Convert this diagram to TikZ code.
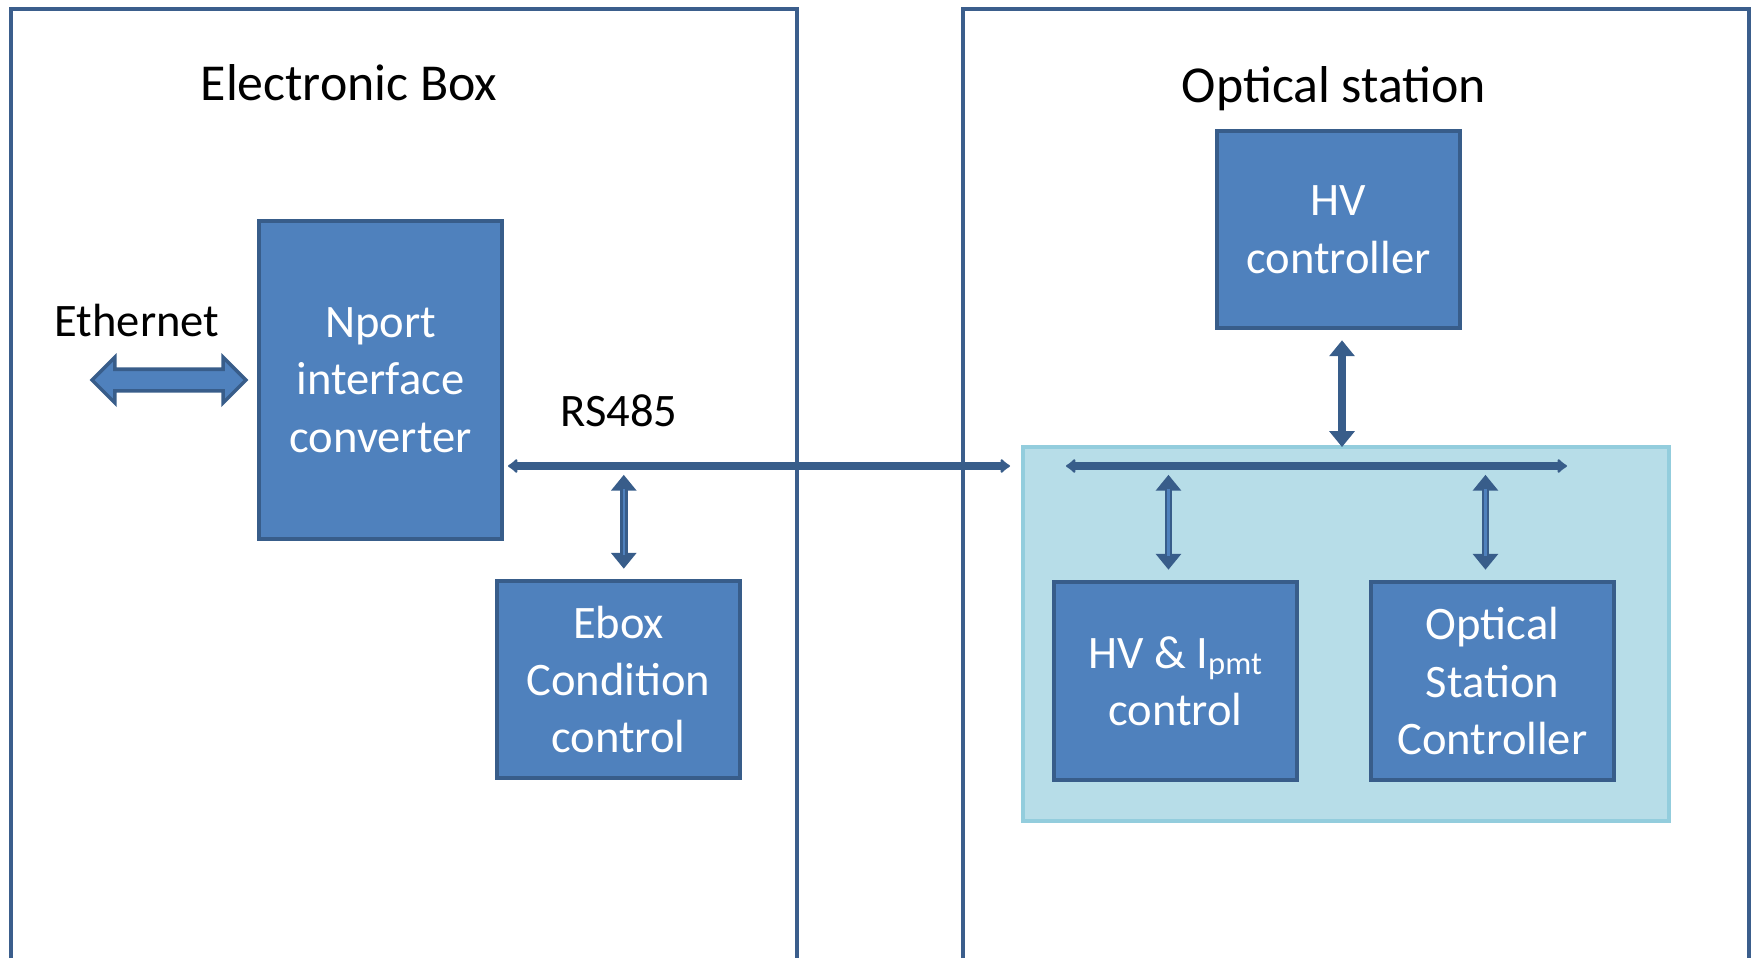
\documentclass[tikz,border=0pt]{standalone}
\usepackage{fontspec}
\setmainfont{Carlito}
\usetikzlibrary{arrows.meta,shapes.arrows}

\definecolor{boxfill}{HTML}{4F81BD}
\definecolor{boxline}{HTML}{385D8A}
\definecolor{zonefill}{HTML}{B7DDE8}
\definecolor{zoneline}{HTML}{93CDDD}
\definecolor{framecol}{HTML}{3B5E8C}

\tikzset{
    frame/.style={draw=framecol, line width=2pt},
    blockbox/.style={draw=boxline, fill=boxfill, line width=2pt, text=white, align=center,
        inner sep=0pt, minimum width=4.86cm, font=\fontsize{26.5}{32.7}\selectfont},
    zone/.style={draw=zoneline, fill=zonefill, line width=2pt, inner sep=0pt},
    title/.style={anchor=base, font=\fontsize{29.5}{35}\selectfont},
    label/.style={anchor=base, font=\fontsize{26.5}{32}\selectfont},
    bus/.style={draw=boxline, line width=4.5pt, {Latex[width=10pt,length=6pt,round]}-{Latex[width=10pt,length=6pt,round]}},
    link/.style={draw=boxline, line width=4.5pt, {Triangle[width=14pt,length=9pt]}-{Triangle[width=14pt,length=9pt]}},
    stripe/.style={draw=boxfill, line width=1.2pt}
}

\begin{document}
\begin{tikzpicture}[x=0.02cm, y=-0.02cm]
    \useasboundingbox (0,0) rectangle (1756,958);

    % the two enclosures, open at the bottom
    \draw[frame] (11,958) -- (11,9) -- (797,9) -- (797,958);
    \draw[frame] (963,958) -- (963,9) -- (1749,9) -- (1749,958);
    \node[title] (eboxtitle) at (349,100) {Electronic Box};
    \node[title] (ostitle) at (1334,102) {Optical station};

    % electronic box side
    \node[blockbox, minimum height=6.36cm] (nport) at (380.5,380) {Nport\\interface\\converter};
    \node[blockbox, minimum height=3.94cm] (ebox) at (618.5,679.5) {Ebox\\Condition\\control};
    \node[double arrow, draw=boxline, fill=boxfill, line width=2pt, minimum height=3.08cm,
        inner xsep=0pt, inner ysep=0.18cm, double arrow head extend=0.24cm] (eth) at (169,380) {};
    \node[label] (ethlabel) at (137,336) {Ethernet};
    \node[label] (rslabel) at (619,426) {RS485};

    % optical station side
    \node[zone, minimum width=12.92cm, minimum height=7.48cm] (zone) at (1346,634) {};
    \node[blockbox, minimum height=3.94cm] (hvc) at (1338.5,229.5) {HV\\controller};
    \node[blockbox, minimum height=3.96cm] (hvi) at (1175.5,681) {HV \& I\textsubscript{pmt}\\control};
    \node[blockbox, minimum height=3.96cm] (osc) at (1492.5,681) {Optical\\Station\\Controller};

    % RS485 line and internal bus
    \coordinate (rsL) at (508,466);
    \coordinate (rsR) at (1010,466);
    \coordinate (busL) at (1066,466);
    \coordinate (busR) at (1567,466);
    \draw[bus] (rsL) -- (rsR);
    \draw[bus] (busL) -- (busR);

    % vertical links
    \draw[link, shorten <=6pt, shorten >=5pt] ([xshift=3pt]ebox.north) -- ([xshift=3pt]ebox.north |- rsL);
    \draw[stripe, shorten <=14pt, shorten >=13pt] ([xshift=3pt]ebox.north) -- ([xshift=3pt]ebox.north |- rsL);
    \draw[link, shorten <=6pt, shorten >=-1pt] ([xshift=2pt]hvc.south) -- ([xshift=2pt]hvc.south |- zone.north);
    \draw[link, shorten <=6pt, shorten >=5pt] ([xshift=-4pt]hvi.north) -- ([xshift=-4pt]hvi.north |- busL);
    \draw[stripe, shorten <=14pt, shorten >=13pt] ([xshift=-4pt]hvi.north) -- ([xshift=-4pt]hvi.north |- busL);
    \draw[link, shorten <=6pt, shorten >=5pt] ([xshift=-4pt]osc.north) -- ([xshift=-4pt]osc.north |- busL);
    \draw[stripe, shorten <=14pt, shorten >=13pt] ([xshift=-4pt]osc.north) -- ([xshift=-4pt]osc.north |- busL);
\end{tikzpicture}
\end{document}
